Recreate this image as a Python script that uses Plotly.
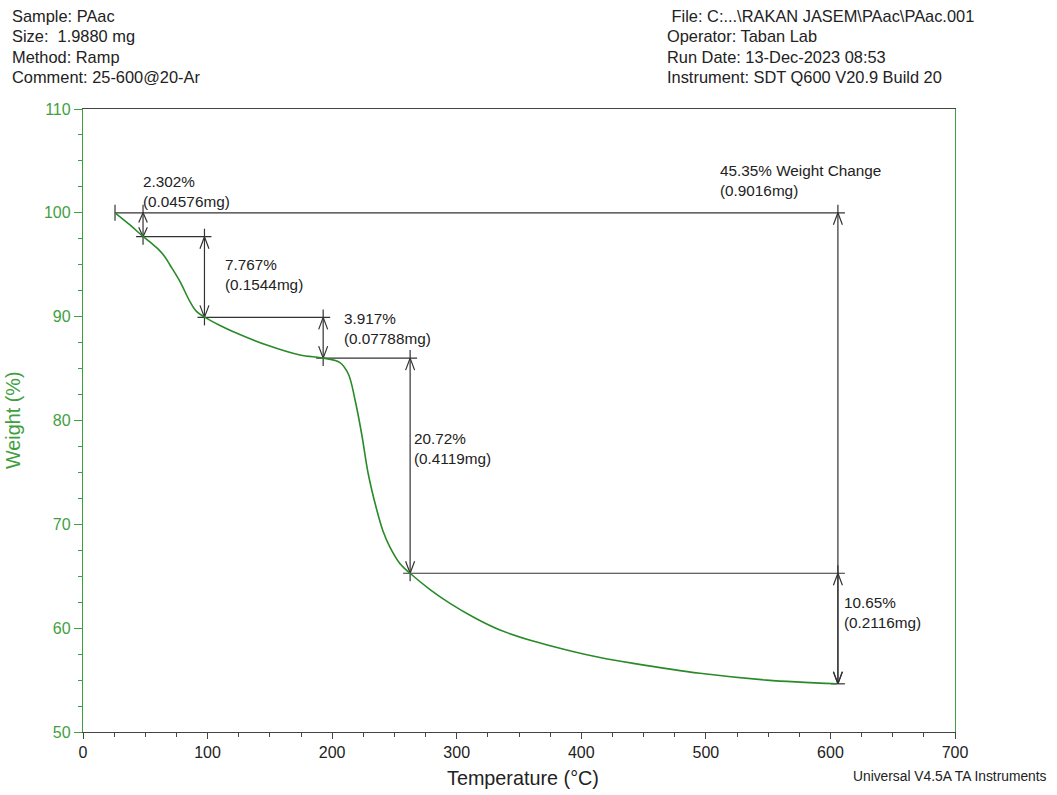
import plotly.graph_objects as go

# ---------------- data ----------------
temperature_c = [25.7, 37.7, 48.4, 54.6, 60.4, 65.8, 69.8, 77.9, 85.9, 91.3, 97.9, 110.0,
                 120.7, 147.5, 174.2, 192.9, 206.3, 213.0, 218.4, 223.7, 229.0, 235.8,
                 240.8, 246.4, 254.5, 262.5, 278.6, 294.6, 314.7, 334.8, 361.2, 388.3,
                 415.0, 441.8, 495.3, 548.8, 605.0]
weight_pct = [100.0, 98.83, 97.70, 97.10, 96.50, 95.75, 94.98, 93.37, 91.44, 90.48, 89.93, 89.15,
              88.55, 87.27, 86.31, 86.01, 85.58, 84.48, 81.97, 78.70, 74.85, 71.40,
              69.36, 67.80, 66.20, 65.29, 63.72, 62.39, 60.98, 59.82, 58.76, 57.90,
              57.17, 56.61, 55.65, 55.00, 54.64]

step_temp_c = [48.2, 97.5, 192.8, 262.6, 606.0, 606.0]
step_top_pct = [100.0, 97.70, 89.93, 86.01, 100.0, 65.29]
step_bottom_pct = [97.70, 89.93, 86.01, 65.29, 54.64, 54.64]
step_pct_text = ["2.302%", "7.767%", "3.917%", "20.72%", "45.35% Weight Change", "10.65%"]
step_mg_text = ["(0.04576mg)", "(0.1544mg)", "(0.07788mg)", "(0.4119mg)", "(0.9016mg)", "(0.2116mg)"]

x_tick_vals = [0, 100, 200, 300, 400, 500, 600, 700]
y_tick_vals = [50, 60, 70, 80, 90, 100, 110]

header_left = ["Sample: PAac", "Size:\u00a0 1.9880 mg", "Method: Ramp", "Comment: 25-600@20-Ar"]
header_right = ["\u00a0File: C:...\\RAKAN JASEM\\PAac\\PAac.001", "Operator: Taban Lab",
                "Run Date: 13-Dec-2023 08:53", "Instrument: SDT Q600 V20.9 Build 20"]

# ---------------- layout geometry / styles ----------------
W, H = 1057, 795
ML, MR, MT, MB = 83, 102, 109, 63
XMIN, XMAX, YMIN, YMAX = 0, 700, 50, 110
PW, PH = W - ML - MR, H - MT - MB
PX_C = PW / (XMAX - XMIN)
PX_P = PH / (YMAX - YMIN)

GREEN_LINE = "#2a8a2a"
GREEN_AX = "#3f9f3f"
DARK = "#222222"
AX_DARK = "#444444"
FONT = "Arial, Liberation Sans, sans-serif"


def px2x(px):
    return XMIN + (px - ML) / PX_C


def py2y(py):
    return YMAX - (py - MT) / PX_P


def paper_x(px):
    return (px - ML) / PW


def paper_y(py):
    return (H - MB - py) / PH


EXT_V = 8 / PX_P      # vertical cross extension
EXT_H = 7 / PX_C      # horizontal cross extension

seg_x, seg_y = [], []


def seg(x0, y0, x1, y1):
    seg_x.extend([x0, x1, None])
    seg_y.extend([y0, y1, None])


# horizontal level lines
levels = sorted(set(step_top_pct + step_bottom_pct), reverse=True)
for lv in levels:
    xs = [t for t, a, b in zip(step_temp_c, step_top_pct, step_bottom_pct) if lv in (a, b)]
    if lv == weight_pct[0]:
        left = temperature_c[0]
    else:
        left = min(xs) - EXT_H
    seg(left, lv, max(xs) + EXT_H, lv)

# start tick
seg(temperature_c[0], weight_pct[0] + EXT_V, temperature_c[0], weight_pct[0] - EXT_V)

final_level = min(step_bottom_pct)
for t, top, bot in zip(step_temp_c, step_top_pct, step_bottom_pct):
    ext_b = 0 if bot == final_level else EXT_V
    seg(t, top + EXT_V, t, bot - ext_b)
    span_px = (top - bot) * PX_P
    alen = min(12.0, 0.4 * span_px)
    ahw = min(4.5, 0.45 * alen)
    ly = alen / PX_P
    lx = ahw / PX_C
    seg_x.extend([t - lx, t, t + lx, None])
    seg_y.extend([top - ly, top, top - ly, None])
    seg_x.extend([t - lx, t, t + lx, None])
    seg_y.extend([bot + ly, bot, bot + ly, None])

fig = go.Figure()
fig.add_trace(go.Scatter(x=seg_x, y=seg_y, mode="lines",
                         line=dict(color="#333333", width=1.2),
                         hoverinfo="skip", showlegend=False))
fig.add_trace(go.Scatter(x=temperature_c, y=weight_pct, mode="lines",
                         line=dict(color=GREEN_LINE, width=1.6, shape="spline", smoothing=1.0),
                         showlegend=False))

annotations = []
label_px = [(141, 191), (223, 274), (342, 328), (412, 448), (718, 180), (842, 612)]
for (lx_, ly_), p, m in zip(label_px, step_pct_text, step_mg_text):
    annotations.append(dict(x=px2x(lx_), y=py2y(ly_), xref="x", yref="y",
                            text=p + "<br>" + m, showarrow=False, align="left",
                            xanchor="left", yanchor="middle",
                            font=dict(family=FONT, size=15.3, color=DARK)))

header_py = [16, 36.5, 57, 77]
for txt, py in zip(header_left, header_py):
    annotations.append(dict(x=paper_x(10), y=paper_y(py), xref="paper", yref="paper",
                            text=txt, showarrow=False, xanchor="left", yanchor="middle",
                            font=dict(family=FONT, size=16.4, color=DARK)))
for txt, py in zip(header_right, header_py):
    annotations.append(dict(x=paper_x(665), y=paper_y(py), xref="paper", yref="paper",
                            text=txt, showarrow=False, xanchor="left", yanchor="middle",
                            font=dict(family=FONT, size=16.4, color=DARK)))

annotations.append(dict(x=paper_x(523), y=paper_y(778), xref="paper", yref="paper",
                        text="Temperature (°C)", showarrow=False,
                        xanchor="center", yanchor="middle",
                        font=dict(family=FONT, size=19.8, color=DARK)))
annotations.append(dict(x=paper_x(13), y=paper_y(421), xref="paper", yref="paper",
                        text="Weight (%)", showarrow=False, textangle=-90,
                        xanchor="center", yanchor="middle",
                        font=dict(family=FONT, size=19.8, color=GREEN_AX)))
annotations.append(dict(x=paper_x(1049), y=paper_y(776), xref="paper", yref="paper",
                        text="Universal V4.5A TA Instruments", showarrow=False,
                        xanchor="right", yanchor="middle",
                        font=dict(family=FONT, size=13.8, color=DARK)))

fig.update_layout(
    width=W, height=H, autosize=False,
    margin=dict(l=ML, r=MR, t=MT, b=MB, pad=0),
    paper_bgcolor="white", plot_bgcolor="white",
    annotations=annotations,
    showlegend=False,
    font=dict(family=FONT),
)
fig.update_xaxes(
    range=[XMIN, XMAX], tickvals=x_tick_vals, ticktext=[str(v) for v in x_tick_vals],
    showgrid=False, zeroline=False,
    showline=True, linecolor=AX_DARK, linewidth=1.3, mirror=True,
    ticks="outside", ticklen=6, tickwidth=1.2, tickcolor=AX_DARK,
    tickfont=dict(family=FONT, size=16, color=DARK),
    minor=dict(dtick=25, ticks="outside", ticklen=4, tickwidth=1.2, tickcolor=AX_DARK, showgrid=False),
)
fig.update_yaxes(
    range=[YMIN, YMAX], tickvals=y_tick_vals, ticktext=[str(v) for v in y_tick_vals],
    showgrid=False, zeroline=False,
    showline=True, linecolor=GREEN_AX, linewidth=1.3, mirror=True,
    ticks="outside", ticklen=8, tickwidth=1.2, tickcolor=GREEN_AX,
    tickfont=dict(family=FONT, size=16, color=GREEN_AX),
    minor=dict(dtick=2.5, ticks="outside", ticklen=3.5, tickwidth=1.2, tickcolor=GREEN_AX, showgrid=False),
)

fig.write_html("out.html")
